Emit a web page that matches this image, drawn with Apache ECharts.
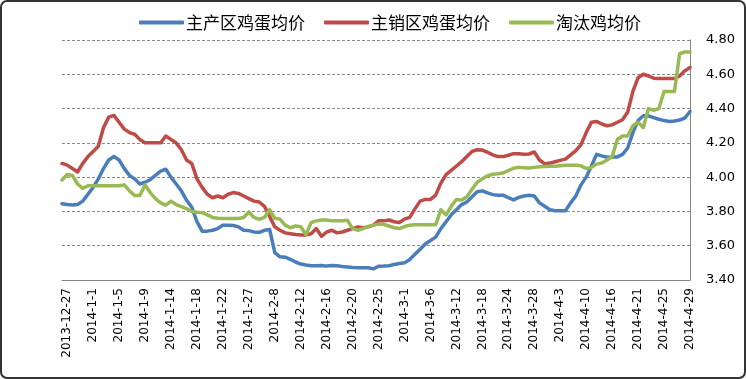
<!DOCTYPE html>
<html>
<head>
<meta charset="utf-8">
<script src="https://cdn.jsdelivr.net/npm/echarts@6/dist/echarts.min.js"></script>
<style>
  html, body { margin: 0; padding: 0; background: #fff; }
  #chart { width: 746px; height: 379px; box-sizing: border-box; border: 2px solid #333; border-radius: 7px; overflow: hidden; }
</style>
</head>
<body>
<div id="chart"></div>
<script>
const seriesNames = ['主产区鸡蛋均价', '主销区鸡蛋均价', '淘汰鸡均价'];

const tickLabels = ['2013-12-27','2014-1-1','2014-1-5','2014-1-9','2014-1-14','2014-1-18','2014-1-22','2014-1-27',
  '2014-2-8','2014-2-12','2014-2-16','2014-2-20','2014-2-25','2014-3-1','2014-3-6','2014-3-12','2014-3-18',
  '2014-3-24','2014-3-28','2014-4-3','2014-4-10','2014-4-16','2014-4-21','2014-4-25','2014-4-29'];

const yTicks = [3.40, 3.60, 3.80, 4.00, 4.20, 4.40, 4.60, 4.80];

const mainProducing = [3.845,3.84,3.838,3.84,3.86,3.90,3.94,3.99,4.05,4.10,4.12,4.10,4.05,4.01,3.99,3.96,3.97,3.985,4.01,4.035,
  4.046,4.00,3.96,3.92,3.865,3.825,3.74,3.685,3.685,3.69,3.70,3.72,3.72,3.718,3.71,3.69,3.688,3.68,3.678,3.69,
  3.695,3.56,3.535,3.533,3.52,3.505,3.493,3.487,3.483,3.483,3.485,3.481,3.484,3.483,3.479,3.476,3.473,3.472,3.472,3.471,
  3.465,3.48,3.481,3.483,3.49,3.496,3.50,3.52,3.55,3.58,3.61,3.63,3.65,3.70,3.74,3.78,3.81,3.84,3.855,3.885,
  3.915,3.92,3.908,3.898,3.895,3.895,3.88,3.867,3.882,3.89,3.894,3.89,3.85,3.83,3.81,3.804,3.804,3.804,3.85,3.89,
  3.955,4.0,4.065,4.133,4.124,4.116,4.118,4.118,4.133,4.17,4.26,4.33,4.358,4.358,4.347,4.338,4.33,4.325,4.328,4.333,
  4.345,4.383];

const mainSelling = [4.08,4.07,4.05,4.03,4.08,4.12,4.15,4.18,4.29,4.35,4.36,4.32,4.28,4.26,4.25,4.22,4.20,4.20,4.20,4.20,
  4.24,4.22,4.20,4.16,4.10,4.08,3.99,3.94,3.90,3.88,3.89,3.88,3.90,3.91,3.905,3.89,3.875,3.86,3.855,3.83,
  3.77,3.71,3.69,3.675,3.67,3.665,3.663,3.663,3.67,3.70,3.655,3.68,3.69,3.675,3.68,3.69,3.70,3.71,3.705,3.71,
  3.72,3.745,3.745,3.75,3.74,3.735,3.755,3.765,3.815,3.86,3.87,3.87,3.895,3.965,4.015,4.04,4.065,4.09,4.12,4.15,
  4.16,4.158,4.145,4.13,4.12,4.12,4.128,4.137,4.136,4.133,4.135,4.147,4.10,4.077,4.082,4.09,4.098,4.105,4.13,4.155,
  4.19,4.26,4.32,4.325,4.31,4.30,4.305,4.32,4.335,4.38,4.50,4.58,4.60,4.59,4.577,4.575,4.575,4.575,4.575,4.59,
  4.62,4.64];

const culledHen = [3.983,4.015,4.01,3.96,3.935,3.95,3.95,3.95,3.95,3.95,3.95,3.95,3.955,3.92,3.893,3.893,3.955,3.91,3.875,3.85,
  3.837,3.86,3.84,3.828,3.816,3.80,3.795,3.793,3.78,3.765,3.76,3.759,3.759,3.759,3.759,3.765,3.797,3.765,3.753,3.765,
  3.81,3.76,3.755,3.72,3.705,3.715,3.711,3.665,3.735,3.745,3.75,3.75,3.745,3.745,3.745,3.748,3.70,3.69,3.70,3.713,
  3.72,3.726,3.724,3.715,3.705,3.70,3.712,3.72,3.722,3.722,3.722,3.722,3.722,3.81,3.78,3.83,3.87,3.866,3.885,3.93,
  3.97,3.99,4.008,4.017,4.02,4.024,4.038,4.052,4.057,4.055,4.053,4.057,4.06,4.062,4.063,4.064,4.067,4.07,4.07,4.07,
  4.066,4.05,4.057,4.076,4.082,4.10,4.12,4.22,4.24,4.24,4.30,4.32,4.29,4.40,4.39,4.40,4.50,4.50,4.50,4.72,
  4.73,4.73];

const labelStart = 1, labelStep = 5;
const categories = mainProducing.map((_, i) => {
  const k = (i - labelStart) / labelStep;
  return (i >= labelStart && Number.isInteger(k) && k < tickLabels.length) ? tickLabels[k] : '';
});

const colors = ['#4A7EBB', '#BE4B48', '#98B954'];

const chart = echarts.init(document.getElementById('chart'), null, { renderer: 'canvas' });
const mk = (name, data, color) => ({
  name, type: 'line', data, showSymbol: false, symbol: 'none', smooth: false,
  lineStyle: { width: 3.5, color, cap: 'round', join: 'round' },
  itemStyle: { color },
  emphasis: { disabled: true },
  animation: false
});
chart.setOption({
  animation: false,
  color: colors,
  legend: {
    left: 132, top: 7,
    icon: 'roundRect', itemWidth: 45, itemHeight: 4, itemGap: 19,
    textStyle: { fontFamily: 'Noto Sans CJK SC', fontSize: 17, color: '#000', padding: [0, 0, 0, -3] },
    data: seriesNames
  },
  grid: { left: 60, right: 54, top: 38, bottom: 97, containLabel: false },
  xAxis: {
    type: 'category', data: categories, boundaryGap: false,
    axisLine: { show: true, lineStyle: { color: '#868686', width: 1 } },
    axisTick: { show: false },
    axisLabel: {
      rotate: 90, margin: 8, interval: (i) => categories[i] !== '',
      fontFamily: 'DejaVu Sans', fontSize: 12, color: '#000'
    },
    splitLine: { show: false }
  },
  yAxis: {
    type: 'value', position: 'right', min: yTicks[0], max: yTicks[yTicks.length - 1], interval: 0.2,
    axisLine: { show: true, lineStyle: { color: '#868686', width: 1 } },
    axisTick: { show: false },
    axisLabel: { margin: 16, fontFamily: 'DejaVu Sans', fontSize: 13, color: '#000', formatter: v => v.toFixed(2) },
    splitLine: { show: true, lineStyle: { color: '#8a8a8a', width: 1, type: [3, 2] } }
  },
  series: [
    mk(seriesNames[0], mainProducing, colors[0]),
    mk(seriesNames[1], mainSelling, colors[1]),
    mk(seriesNames[2], culledHen, colors[2])
  ]
});
</script>
</body>
</html>
